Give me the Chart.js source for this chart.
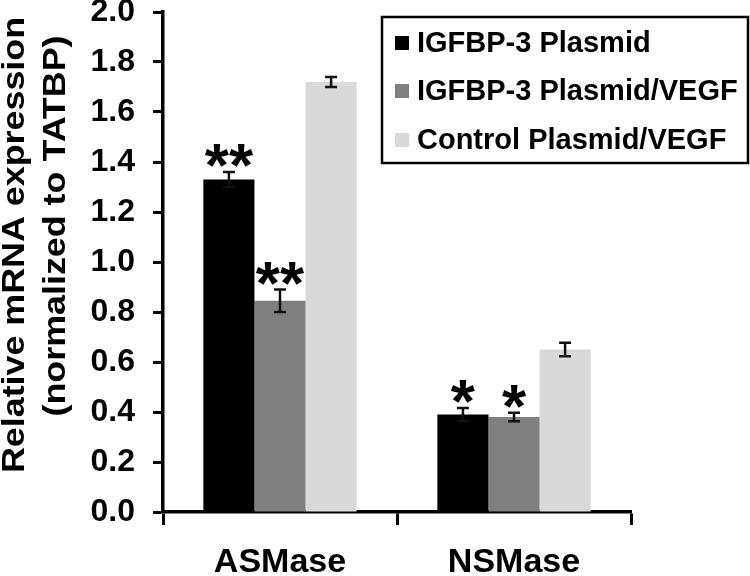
<!DOCTYPE html>
<html>
<head>
<meta charset="utf-8">
<script src="https://cdn.jsdelivr.net/npm/chart.js@4"></script>
<style>
  html, body { margin: 0; padding: 0; background: #fff; }
</style>
</head>
<body>
<canvas id="chart" width="750" height="576"></canvas>
<script>
// data
const categories = ['ASMase', 'NSMase'];
const seriesNames = ['IGFBP-3 Plasmid', 'IGFBP-3 Plasmid/VEGF', 'Control Plasmid/VEGF'];
const igfbpPlasmid = [1.33, 0.39];
const igfbpPlasmidErr = [0.03, 0.026];
const igfbpVegf = [0.845, 0.38];
const igfbpVegfErr = [0.045, 0.017];
const controlVegf = [1.72, 0.65];
const controlVegfErr = [0.02, 0.027];
const igfbpPlasmidSig = ['**', '*'];
const igfbpVegfSig = ['**', '*'];
const controlVegfSig = ['', ''];
const yTickLabels = ['0.0', '0.2', '0.4', '0.6', '0.8', '1.0', '1.2', '1.4', '1.6', '1.8', '2.0'];
const yTitleLines = ['Relative mRNA expression', '(normalized to TATBP)'];

const FONT = "'Liberation Sans', Arial, Helvetica, sans-serif";

const errors = [igfbpPlasmidErr, igfbpVegfErr, controlVegfErr];
const stars = [igfbpPlasmidSig, igfbpVegfSig, controlVegfSig];

// error bars + asterisks
const errorBarPlugin = {
    id: 'errorBars',
    afterDatasetsDraw(chart) {
        const ctx = chart.ctx;
        const y = chart.scales.y;
        ctx.save();
        chart.data.datasets.forEach((ds, i) => {
            const meta = chart.getDatasetMeta(i);
            meta.data.forEach((bar, j) => {
                const v = ds.data[j];
                const e = errors[i][j];
                const top = y.getPixelForValue(v + e);
                const bot = y.getPixelForValue(v - e);
                ctx.strokeStyle = '#111';
                ctx.lineWidth = 2.5;
                ctx.beginPath();
                ctx.moveTo(bar.x, top);
                ctx.lineTo(bar.x, bot);
                ctx.moveTo(bar.x - 6, top);
                ctx.lineTo(bar.x + 6, top);
                ctx.moveTo(bar.x - 6, bot);
                ctx.lineTo(bar.x + 6, bot);
                ctx.stroke();

                const s = stars[i][j];
                if (s) {
                    ctx.font = 'bold 62px ' + FONT;
                    ctx.fillStyle = '#000';
                    ctx.textAlign = 'center';
                    ctx.textBaseline = 'alphabetic';
                    const m = ctx.measureText(s);
                    const mid = (m.actualBoundingBoxAscent - m.actualBoundingBoxDescent) / 2;
                    ctx.fillText(s, bar.x, top - 16.5 + mid);
                }
            });
        });
        ctx.restore();
    }
};

// two-line rotated y title and boxed legend
const decorPlugin = {
    id: 'decor',
    afterDraw(chart) {
        const ctx = chart.ctx;
        ctx.save();
        ctx.fillStyle = '#000';
        ctx.font = 'bold 32px ' + FONT;
        ctx.textAlign = 'center';
        ctx.textBaseline = 'alphabetic';
        const pos = [[24, 245], [65, 226]];
        yTitleLines.forEach((t, k) => {
            ctx.save();
            ctx.translate(pos[k][0], pos[k][1]);
            ctx.rotate(-Math.PI / 2);
            ctx.scale(1.12, 1);
            ctx.fillText(t, 0, 0);
            ctx.restore();
        });

        // legend
        ctx.lineWidth = 2.5;
        ctx.strokeStyle = '#000';
        ctx.strokeRect(382, 17, 366, 146);
        const rows = [43, 91, 140];
        ctx.font = 'bold 29px ' + FONT;
        ctx.textAlign = 'left';
        ctx.textBaseline = 'middle';
        chart.data.datasets.forEach((ds, i) => {
            ctx.fillStyle = ds.backgroundColor;
            ctx.fillRect(395, rows[i] - 7, 14, 14);
            ctx.fillStyle = '#000';
            ctx.fillText(ds.label, 417, rows[i] + 1);
        });
        ctx.restore();
    }
};

const ctx = document.getElementById('chart').getContext('2d');

new Chart(ctx, {
    type: 'bar',
    data: {
        labels: categories,
        datasets: [
            { label: seriesNames[0], data: igfbpPlasmid, backgroundColor: '#000000' },
            { label: seriesNames[1], data: igfbpVegf, backgroundColor: '#808080' },
            { label: seriesNames[2], data: controlVegf, backgroundColor: '#d9d9d9' }
        ]
    },
    options: {
        responsive: false,
        animation: false,
        devicePixelRatio: 1,
        barPercentage: 1,
        categoryPercentage: 0.655,
        layout: { padding: { left: 0, top: 12, right: 119, bottom: 0 } },
        plugins: {
            legend: { display: false },
            tooltip: { enabled: false }
        },
        scales: {
            x: {
                grid: {
                    drawOnChartArea: false,
                    drawTicks: true,
                    tickLength: 13,
                    tickWidth: 3,
                    tickColor: '#000'
                },
                border: { display: true, color: '#000', width: 3.5 },
                ticks: {
                    color: '#000',
                    padding: 17,
                    font: { family: FONT, size: 34, weight: 'bold' }
                },
                afterFit(scale) {
                    scale.height = 64;
                    scale.paddingLeft = 0;
                    scale.paddingRight = 0;
                }
            },
            y: {
                min: 0,
                max: 2,
                grid: {
                    drawOnChartArea: false,
                    drawTicks: true,
                    tickLength: 10,
                    tickWidth: 3,
                    tickColor: '#000'
                },
                border: { display: true, color: '#000', width: 3.5 },
                ticks: {
                    stepSize: 0.2,
                    color: '#000',
                    padding: 18,
                    font: { family: FONT, size: 32, weight: 'bold' },
                    callback: (v, i) => yTickLabels[i]
                },
                afterFit(scale) {
                    scale.width = 163;
                    scale.paddingTop = 0;
                    scale.paddingBottom = 0;
                }
            }
        }
    },
    plugins: [errorBarPlugin, decorPlugin]
});
</script>
</body>
</html>
